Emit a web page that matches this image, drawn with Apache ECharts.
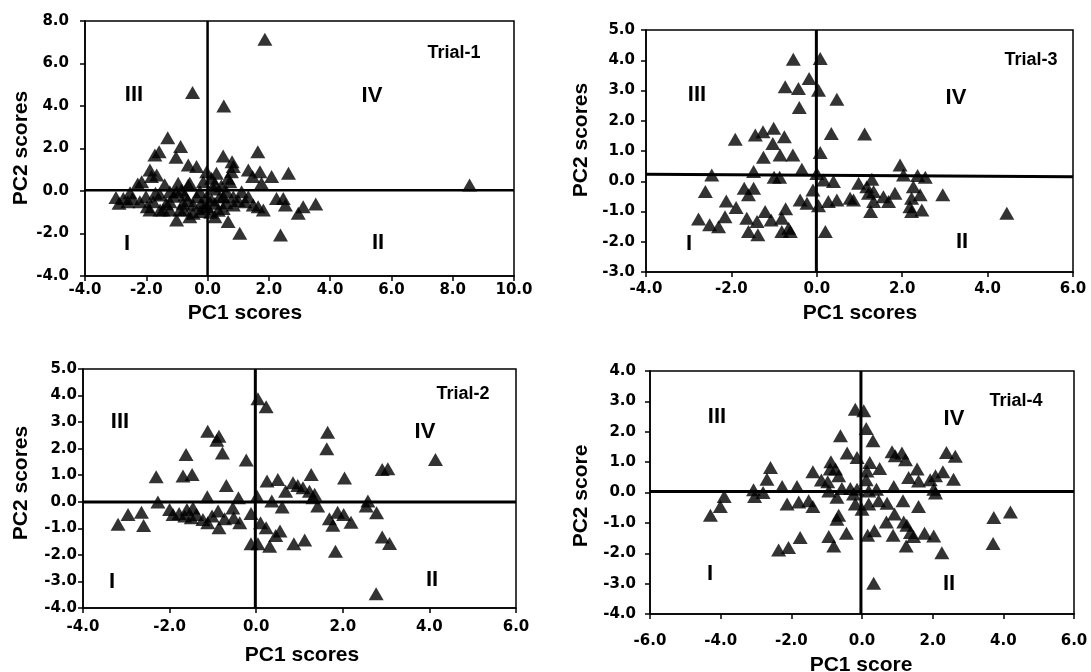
<!DOCTYPE html>
<html>
<head>
<meta charset="utf-8">
<script src="https://cdn.jsdelivr.net/npm/echarts@6/dist/echarts.min.js"></script>
<style>html,body{margin:0;padding:0;background:#fff}#c{width:1091px;height:672px}</style>
</head>
<body>
<div id="c"></div>
<script>
// ---------- DATA ----------
const trial1 = [[1.87,7.14],[-0.49,4.63],[0.53,4.0],[8.55,0.28],[-1.30,2.51],[-0.88,2.09],[-1.58,1.85],[-1.72,1.70],[-1.03,1.59],[0.51,1.65],[1.64,1.85],[0.80,1.38],[-0.63,1.22],[-0.36,1.15],[-0.03,0.91],[0.29,0.83],[0.78,0.91],[1.33,0.99],[1.71,0.91],[1.47,0.68],[2.09,0.68],[2.64,0.83],[-1.88,0.99],[-1.66,0.75],[-2.15,0.44],[-2.28,0.33],[-0.96,0.36],[-0.58,0.36],[-0.14,0.44],[0.24,0.36],[0.73,0.44],[1.76,0.36],[-2.99,-0.30],[-2.75,-0.35],[-2.89,-0.58],[-2.01,-0.27],[-1.97,-0.74],[-1.77,-0.50],[-1.45,-0.89],[-1.23,-0.50],[-1.01,-1.37],[-0.77,-0.89],[-0.58,-1.21],[-0.25,-0.97],[-0.03,-0.74],[0.24,-1.21],[0.51,-0.82],[0.67,-1.44],[0.84,-0.27],[1.05,-1.99],[1.33,-0.27],[1.49,-0.66],[1.65,-0.74],[1.82,-0.89],[2.25,-0.35],[2.47,-0.35],[2.54,-0.66],[2.38,-2.07],[2.96,-1.05],[3.12,-0.74],[3.53,-0.61],[-1.55,-0.19],[-0.74,-0.19],[-0.36,-0.27],[0.40,-0.27],[0.62,-0.03],[-1.01,-0.03],[1.11,-0.03],[-2.53,-0.08],[-2.21,-0.50],[-1.55,-0.89],[-1.23,-0.89],[-0.90,-0.89],[-0.47,-0.66],[0.13,-0.42],[0.84,-0.66],[1.22,-0.50],[-1.88,-0.89],[-0.63,0.28],[0.13,0.60],[0.67,0.60],[0.84,1.15],[-1.83,0.68],[-0.25,-0.03],[-0.03,-0.27],[0.24,-0.58],[0.51,-0.27],[-1.23,-0.03],[-0.80,-0.58],[-0.47,-1.05],[-0.14,-0.82],[-2.45,-0.35],[-1.35,-0.60],[-1.10,-0.25],[-0.65,-0.45],[-0.20,-0.55],[0.10,-1.00],[0.35,-0.90],[0.60,-0.55],[1.00,-0.45],[-1.70,-0.10],[-0.85,0.05],[0.20,0.10],[0.45,0.25],[-1.40,0.30],[-2.60,-0.50]];
const trial3 = [[-0.55,4.03],[0.08,4.06],[-0.18,3.40],[-0.74,3.12],[-0.43,3.07],[0.04,3.01],[0.47,2.71],[-0.41,2.44],[-1.91,1.39],[-1.44,1.53],[-1.26,1.64],[-1.01,1.75],[-0.76,1.47],[-1.03,1.25],[0.34,1.58],[1.12,1.56],[-1.25,0.79],[-0.86,0.87],[-0.56,0.87],[0.08,0.95],[-0.35,0.40],[-1.48,0.32],[-2.46,0.21],[-1.0,0.13],[-0.87,0.13],[0.0,0.26],[1.95,0.54],[2.03,0.21],[2.36,0.19],[2.54,0.13],[0.16,0.04],[0.39,-0.01],[-2.61,-0.34],[-1.70,-0.23],[-1.48,-0.23],[-1.60,-0.45],[-0.09,-0.29],[-2.12,-0.65],[-1.89,-0.87],[-0.39,-0.62],[-0.23,-0.73],[0.04,-0.81],[0.27,-0.67],[0.47,-0.62],[0.78,-0.56],[0.98,-0.07],[1.17,-0.18],[1.29,0.07],[1.33,-0.34],[1.33,-0.67],[1.26,-1.0],[1.56,-0.51],[1.68,-0.67],[1.83,-0.40],[2.26,-0.18],[2.22,-0.56],[2.42,-0.45],[2.22,-1.0],[2.46,-0.95],[2.95,-0.45],[4.45,-1.06],[-2.77,-1.25],[-2.51,-1.44],[-2.30,-1.50],[-2.15,-1.17],[-1.64,-1.22],[-1.60,-1.66],[-1.40,-1.33],[-1.38,-1.77],[-1.21,-1.0],[-1.07,-1.28],[-0.73,-0.91],[-0.82,-1.22],[-0.82,-1.66],[-0.66,-1.55],[-0.62,-1.66],[0.20,-1.66],[0.86,-0.62],[2.18,-0.84],[1.21,-0.40]];
const trial2 = [[0.04,3.88],[0.23,3.58],[-1.12,2.66],[-0.86,2.47],[-0.91,2.32],[-0.78,1.84],[-1.62,1.78],[-0.23,1.57],[-2.31,0.94],[-1.69,0.97],[-1.48,1.03],[-0.69,0.61],[1.65,2.62],[1.63,2.0],[4.14,1.59],[2.91,1.22],[3.04,1.24],[0.25,0.78],[0.50,0.84],[1.27,1.03],[2.04,0.90],[0.85,0.72],[0.96,0.61],[1.08,0.53],[1.23,0.40],[1.35,0.28],[0.68,0.40],[-2.27,-0.01],[-1.13,0.19],[-0.41,0.15],[0.02,0.21],[0.36,0.03],[1.31,0.15],[1.42,-0.16],[2.58,0.03],[2.54,-0.16],[2.78,-0.41],[-3.19,-0.85],[-2.96,-0.48],[-2.65,-0.39],[-2.60,-0.89],[-2.0,-0.29],[-1.78,-0.44],[-1.65,-0.54],[-1.50,-0.60],[-1.38,-0.48],[-1.60,-0.29],[-1.12,-0.79],[-1.02,-0.54],[-0.88,-0.35],[-0.86,-0.98],[-0.73,-0.64],[-0.54,-0.23],[-0.52,-0.60],[-0.38,-0.79],[-0.12,-0.44],[0.10,-0.79],[0.23,-0.98],[0.45,-1.27],[0.55,-1.10],[-0.12,-1.58],[0.04,-1.58],[0.31,-1.67],[0.87,-1.58],[1.12,-1.44],[0.60,-0.20],[1.69,-0.64],[1.77,-0.88],[1.88,-0.39],[2.02,-0.48],[2.19,-0.77],[1.83,-1.86],[2.91,-1.33],[3.08,-1.57],[2.77,-3.46],[-1.46,-0.23],[-1.23,-0.67],[-1.92,-0.48]];
const trial4 = [[-0.19,2.74],[0.05,2.69],[0.12,2.11],[0.31,1.70],[-0.61,1.87],[-0.42,1.30],[-0.14,1.15],[-0.88,1.01],[-0.75,0.77],[-0.66,0.55],[-2.59,0.82],[-2.69,0.44],[-1.39,0.68],[-1.15,0.41],[0.22,0.99],[0.14,0.71],[0.50,0.79],[0.85,1.34],[0.94,1.21],[1.13,1.30],[1.23,1.08],[1.56,0.77],[1.32,0.49],[1.60,0.38],[2.39,1.32],[2.64,1.19],[2.29,0.68],[2.08,0.55],[1.93,0.42],[2.59,0.44],[2.03,0.11],[2.08,-0.02],[0.12,0.42],[0.41,0.11],[0.90,0.20],[-3.07,0.09],[-2.80,0.0],[-3.04,-0.13],[-2.26,0.20],[-1.84,0.20],[-3.90,-0.13],[-4.01,-0.46],[-4.29,-0.75],[-2.12,-0.38],[-1.79,-0.31],[-1.51,-0.27],[-1.39,-0.46],[-0.94,0.05],[-0.71,-0.16],[-0.57,0.13],[-0.33,0.13],[-0.24,-0.05],[-0.19,-0.38],[0.0,-0.55],[0.19,-0.38],[0.47,-0.27],[0.71,-0.35],[1.16,-0.27],[1.60,-0.46],[0.92,-0.71],[1.18,-0.97],[1.27,-1.08],[0.69,-0.97],[-0.66,-0.75],[-0.71,-0.88],[0.16,-1.41],[0.35,-1.26],[0.88,-1.41],[1.37,-1.32],[1.46,-1.45],[1.77,-1.34],[2.03,-1.43],[1.25,-1.76],[2.26,-1.98],[-0.44,-1.34],[-0.94,-1.45],[-0.80,-1.76],[-1.75,-1.48],[-2.36,-1.89],[-2.08,-1.81],[0.33,-2.99],[3.73,-0.82],[4.20,-0.64],[3.71,-1.68],[-0.90,0.77],[-0.14,0.11],[0.19,0.05],[-0.97,0.35]];

// axis ranges [min, max, interval]
const x1 = [-4, 10, 2], y1 = [-4, 8, 2];
const x3 = [-4, 6, 2],  y3 = [-3, 5, 1];
const x2 = [-4, 6, 2],  y2 = [-4, 5, 1];
const x4 = [-6, 6, 2],  y4 = [-4, 4, 1];

// quadrant dividing lines: [[x0,y0],[x1,y1]]
const h1 = [[-4, 0.03], [10, 0.03]], v1 = [[0, -4], [0, 8]];
const h3 = [[-4, 0.23], [6, 0.15]],  v3 = [[-0.01, -3], [-0.01, 5]];
const h2 = [[-4, -0.01], [6, -0.01]], v2 = [[-0.02, -4], [-0.02, 5]];
const h4 = [[-6, 0.03], [6, 0.03]],  v4 = [[-0.03, -4], [-0.03, 4]];

const trialNames = ['Trial-1', 'Trial-3', 'Trial-2', 'Trial-4'];
const quadNames = ['I', 'II', 'III', 'IV'];
const xNames = ['PC1 scores', 'PC1 scores', 'PC1 scores', 'PC1 score'];
const yNames = ['PC2 scores', 'PC2 scores', 'PC2 scores', 'PC2 score'];

// ---------- LAYOUT ----------
const grids = [
  {left: 85, top: 21, width: 429, height: 255},
  {left: 646, top: 30, width: 427, height: 242},
  {left: 83, top: 369, width: 433, height: 239},
  {left: 650, top: 371, width: 424, height: 243}
];
const yLabMargin = [16, 11, 6, 14];
const xLabMargin = [7, 10, 12, 20];
const lineW = [2.5, 3, 3, 3];
const panels = [
  {pts: trial1, x: x1, y: y1, h: h1, v: v1},
  {pts: trial3, x: x3, y: y3, h: h3, v: v3},
  {pts: trial2, x: x2, y: y2, h: h2, v: v2},
  {pts: trial4, x: x4, y: y4, h: h4, v: v4}
];
// text positions (pixels)
const trialPos = [[454, 53], [1031, 60], [463, 394], [1016, 401]];
const quadPos = [
  [[127, 244], [378, 243], [134, 95], [372, 96]],
  [[689, 244], [962, 242], [697, 95], [956, 98]],
  [[112, 582], [432, 580], [120, 422], [425, 432]],
  [[710, 574], [949, 584], [717, 417], [954, 419]]
];
const xNamePos = [[245, 313], [860, 313], [302, 655], [861, 665]];
const yNamePos = [[21, 148], [581, 140], [21, 483], [581, 496]];

const tickFont = {fontFamily: 'DejaVu Sans', fontWeight: 'bold', fontSize: 15, color: '#000'};
const fmt = v => Number(v).toFixed(1);

const option = {
  animation: false,
  backgroundColor: '#fff',
  grid: grids.map(g => Object.assign({show: true, borderColor: '#000', borderWidth: 1.5, containLabel: false}, g)),
  xAxis: panels.map((p, i) => ({
    type: 'value', gridIndex: i, min: p.x[0], max: p.x[1], interval: p.x[2],
    axisLine: {show: true, onZero: false, lineStyle: {color: '#000', width: 1.5}},
    axisTick: {show: true, inside: false, length: 5, lineStyle: {color: '#000', width: 1.5}},
    splitLine: {show: false},
    axisLabel: Object.assign({margin: xLabMargin[i], formatter: fmt, showMinLabel: true, showMaxLabel: true, hideOverlap: false}, tickFont)
  })),
  yAxis: panels.map((p, i) => ({
    type: 'value', gridIndex: i, min: p.y[0], max: p.y[1], interval: p.y[2],
    axisLine: {show: true, onZero: false, lineStyle: {color: '#000', width: 1.5}},
    axisTick: {show: true, inside: false, length: 5, lineStyle: {color: '#000', width: 1.5}},
    splitLine: {show: false},
    axisLabel: Object.assign({margin: yLabMargin[i], formatter: fmt, showMinLabel: true, showMaxLabel: true, hideOverlap: false}, tickFont)
  })),
  series: [],
  graphic: []
};

panels.forEach((p, i) => {
  [p.h, p.v].forEach(seg => {
    option.series.push({
      type: 'line', xAxisIndex: i, yAxisIndex: i, data: seg, symbol: 'none', silent: true,
      lineStyle: {color: '#000', width: lineW[i]}, z: 2
    });
  });
  option.series.push({
    type: 'scatter', xAxisIndex: i, yAxisIndex: i, data: p.pts, symbol: 'triangle',
    symbolSize: [15, 13], itemStyle: {color: '#000'}, z: 3
  });
  option.graphic.push({
    type: 'text', x: trialPos[i][0], y: trialPos[i][1],
    style: {text: trialNames[i], font: 'bold 18px "Liberation Sans", Arial', fill: '#000', align: 'center', verticalAlign: 'middle'}
  });
  quadNames.forEach((q, k) => {
    option.graphic.push({
      type: 'text', x: quadPos[i][k][0], y: quadPos[i][k][1],
      style: {text: q, font: 'bold 22px "Liberation Sans", Arial', fill: '#000', align: 'center', verticalAlign: 'middle'}
    });
  });
  option.graphic.push({
    type: 'text', x: xNamePos[i][0], y: xNamePos[i][1],
    style: {text: xNames[i], font: 'bold 21px "Liberation Sans", Arial', fill: '#000', align: 'center', verticalAlign: 'middle'}
  });
  option.graphic.push({
    type: 'text', x: yNamePos[i][0], y: yNamePos[i][1], rotation: Math.PI / 2,
    style: {text: yNames[i], font: 'bold 21px "Liberation Sans", Arial', fill: '#000', align: 'center', verticalAlign: 'middle'}
  });
});

const chart = echarts.init(document.getElementById('c'), null, {renderer: 'canvas'});
chart.setOption(option);
</script>
</body>
</html>
